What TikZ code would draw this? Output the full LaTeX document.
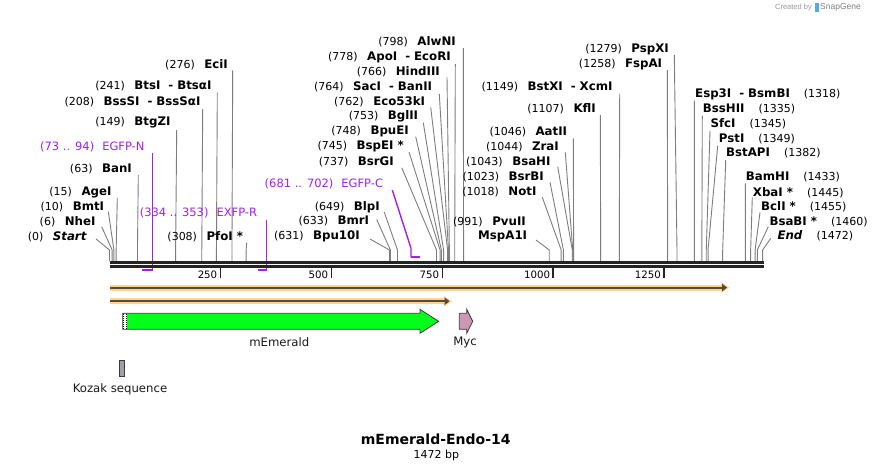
\documentclass[tikz,border=0pt]{standalone}
\usepackage{fontspec}
\setmainfont{DejaVu Sans}
\newfontfamily\credfont{Liberation Sans}
\usetikzlibrary{arrows.meta}
\definecolor{prm}{RGB}{160,32,240}
\definecolor{orfh}{RGB}{255,212,140}
\definecolor{orfd}{RGB}{88,74,56}
\definecolor{grn}{RGB}{4,255,26}
\definecolor{mycc}{RGB}{204,153,180}
\definecolor{bbc}{RGB}{36,36,36}
\definecolor{ldr}{RGB}{125,125,125}
\definecolor{kgray}{RGB}{160,160,170}
\definecolor{fdark}{RGB}{60,60,60}
\definecolor{snapblue}{RGB}{90,170,230}
\newcommand\fN{\fontsize{11}{13}\selectfont}
\newcommand\fB{\fontsize{11.8}{14}\selectfont\bfseries}
\newcommand\dsh{\hspace{8pt}-\hspace{4pt}}
\newcommand\nmL[2]{{\fN #1}\hspace{9.5pt}{\fB #2}}
\newcommand\nmR[2]{{\fB #1}\hspace{14pt}{\fN #2}}
\newcommand\enz[7]{%
  \node[lab,anchor=#2] (#1) at (#3,#4) {#5};
  \coordinate (#1-s) at #6;
  \coordinate (#1-k) at ({109.5+0.4437*#7},250);
  \coordinate (#1-b) at ({109.5+0.4437*#7},261);
  \draw[leader] (#1-s) -- (#1-k) -- (#1-b);}
\begin{document}
\begin{tikzpicture}[x=1pt,y=-1pt,
  lab/.style={inner sep=0pt,text=black},
  leader/.style={draw=ldr,line width=0.9pt},
  primer/.style={draw=prm,line width=1.4pt},
  plab/.style={inner sep=0pt,text=prm,font=\fontsize{11.5}{13}\selectfont},
  flab/.style={inner sep=0pt,text=black!90,font=\fontsize{11.7}{14}\selectfont},
  tickl/.style={inner sep=0pt,text=black,font=\fontsize{10.2}{12}\selectfont},
  feat/.style={draw=fdark,line width=0.8pt}]
\useasboundingbox (0,0) rectangle (874,471);

% ---- credit
\node[inner sep=0pt,anchor=east,text=black!40,font=\credfont\fontsize{7.5}{9}\selectfont] (cred1) at (812,7.5) {Created by};
\fill[snapblue] (815,3) rectangle (818.5,12);
\node[inner sep=0pt,anchor=west,text=black!50,font=\credfont\fontsize{8.5}{10}\selectfont] (cred2) at (820,7.5) {SnapGene};

% ---- enzymes, left-hand labels
\enz{start}{east}{87}{236.7}{\nmL{(0)}{\textit{Start}}}{(96,239)}{0}
\enz{nhe}{east}{95.7}{221.7}{\nmL{(6)}{NheI}}{(101.7,226.7)}{6}
\enz{bmt}{east}{104.3}{207}{\nmL{(10)}{BmtI}}{(108.3,211.7)}{10}
\enz{age}{east}{111.7}{192}{\nmL{(15)}{AgeI}}{(117.3,198)}{15}
\enz{ban}{east}{132}{169}{\nmL{(63)}{BanI}}{(138.3,175)}{63}
\enz{btgz}{east}{170.7}{122.3}{\nmL{(149)}{BtgZI}}{(176.7,130)}{149}
\enz{bsss}{east}{200.7}{101.7}{\nmL{(208)}{BssSI\dsh BssSαI}}{(202.7,109)}{208}
\enz{bts}{east}{211.7}{85.7}{\nmL{(241)}{BtsI\dsh BtsαI}}{(217.3,92.7)}{241}
\enz{eci}{east}{228}{64.3}{\nmL{(276)}{EciI}}{(232.7,70)}{276}
\enz{pfo}{east}{243.3}{236.7}{\nmL{(308)}{PfoI *}}{(246.7,242.7)}{308}
\enz{bputen}{east}{360}{236.7}{\nmL{(631)}{Bpu10I}}{(370,239)}{631}
\enz{bmr}{east}{369.3}{221}{\nmL{(633)}{BmrI}}{(376.7,219.5)}{633}
\enz{blp}{east}{380}{207.3}{\nmL{(649)}{BlpI}}{(384.3,212.3)}{649}
\enz{bsrg}{east}{394}{162.3}{\nmL{(737)}{BsrGI}}{(401.7,167.7)}{737}
\enz{bspe}{east}{404}{146.7}{\nmL{(745)}{BspEI *}}{(409,152)}{745}
\enz{bpue}{east}{409}{131.7}{\nmL{(748)}{BpuEI}}{(415.7,136.7)}{748}
\enz{bgl}{east}{418.3}{116.7}{\nmL{(753)}{BglII}}{(423.3,122.7)}{753}
\enz{ecof}{east}{425.3}{101.7}{\nmL{(762)}{Eco53kI}}{(430.7,107.3)}{762}
\enz{sac}{east}{432.3}{87.3}{\nmL{(764)}{SacI\dsh BanII}}{(439.3,94)}{764}
\enz{hind}{east}{440}{71.7}{\nmL{(766)}{HindIII}}{(447,77.3)}{766}
\enz{apo}{east}{451}{57.3}{\nmL{(778)}{ApoI\dsh EcoRI}}{(455.3,64)}{778}
\enz{alwn}{east}{456}{41.7}{\nmL{(798)}{AlwNI}}{(463.3,48)}{798}
\node[lab,anchor=east] (pvu) at (526,221.7) {\nmL{(991)}{PvuII}};
\enz{mspa}{east}{527.3}{236.7}{{\fB MspA1I}}{(536,240)}{991}
\enz{noti}{east}{536.7}{191.7}{\nmL{(1018)}{NotI}}{(542.3,197.3)}{1018}
\enz{bsrb}{east}{544}{176.7}{\nmL{(1023)}{BsrBI}}{(550,182.3)}{1023}
\enz{bsah}{east}{550.7}{161.7}{\nmL{(1043)}{BsaHI}}{(557.7,166.7)}{1043}
\enz{zra}{east}{559}{146.7}{\nmL{(1044)}{ZraI}}{(565.3,152.3)}{1044}
\enz{aat}{east}{567.3}{131.7}{\nmL{(1046)}{AatII}}{(573.3,138.3)}{1046}
\enz{kfl}{east}{596}{109}{\nmL{(1107)}{KflI}}{(600.3,115)}{1107}
\enz{bstx}{east}{612.7}{86.7}{\nmL{(1149)}{BstXI\dsh XcmI}}{(619.7,94)}{1149}
\enz{fspa}{east}{662.3}{64}{\nmL{(1258)}{FspAI}}{(667.3,70)}{1258}
\enz{pspx}{east}{669}{49}{\nmL{(1279)}{PspXI}}{(674.3,55)}{1279}

% ---- enzymes, right-hand labels
\enz{esp}{west}{695}{94.3}{\nmR{Esp3I\dsh BsmBI}{(1318)}}{(694.3,100.7)}{1318}
\enz{bssh}{west}{702.7}{109.3}{\nmR{BssHII}{(1335)}}{(702.3,115.7)}{1335}
\enz{sfc}{west}{710.3}{124}{\nmR{SfcI}{(1345)}}{(710,130.7)}{1345}
\enz{pst}{west}{718.7}{139}{\nmR{PstI}{(1349)}}{(717.7,145.7)}{1349}
\enz{bstap}{west}{726}{153.3}{\nmR{BstAPI}{(1382)}}{(725.7,160)}{1382}
\enz{bam}{west}{745.7}{177.3}{\nmR{BamHI}{(1433)}}{(745.3,183.3)}{1433}
\enz{xba}{west}{752.7}{192.3}{\nmR{XbaI *}{(1445)}}{(752.3,197.3)}{1445}
\enz{bcl}{west}{761}{206.7}{\nmR{BclI *}{(1455)}}{(760,212.3)}{1455}
\enz{bsab}{west}{769.3}{221.7}{\nmR{BsaBI *}{(1460)}}{(768.3,226.7)}{1460}
\enz{endm}{west}{777.3}{235.7}{\nmR{\textit{End}}{(1472)}}{(770.7,238.3)}{1472}

% ---- primers
\node[plab,anchor=east] (egfpn) at (144.7,146.7) {(73 .. 94)\hspace{8pt}EGFP-N};
\coordinate (egfpn-a) at (152.7,153);
\coordinate (egfpn-b) at (152.7,270);
\coordinate (egfpn-c) at (141.5,270);
\draw[primer] (egfpn-a) -- (egfpn-b);
\draw[prm,line width=2pt] (egfpn-b) -- (egfpn-c);

\node[plab,anchor=east] (exfpr) at (257.3,213.3) {(334 .. 353)\hspace{8pt}EXFP-R};
\coordinate (exfpr-a) at (266.7,220);
\coordinate (exfpr-b) at (266.7,270);
\coordinate (exfpr-c) at (257.8,270);
\draw[primer] (exfpr-a) -- (exfpr-b);
\draw[prm,line width=2pt] (exfpr-b) -- (exfpr-c);

\node[plab,anchor=east] (egfpc) at (383.3,184) {(681 .. 702)\hspace{8pt}EGFP-C};
\coordinate (egfpc-a) at (392.3,190);
\coordinate (egfpc-k) at (411,248.3);
\coordinate (egfpc-b) at (411,257.3);
\coordinate (egfpc-c) at (420,257.3);
\draw[primer] (egfpc-a) -- (egfpc-k) -- (egfpc-b);
\draw[prm,line width=2pt] (egfpc-b) -- (egfpc-c);

% ---- backbone
\coordinate (bb0) at (109.5,262.2);
\coordinate (bb1) at (763.8,262.2);
\coordinate (bc0) at (109.5,266.3);
\coordinate (bc1) at (763.8,266.3);
\draw[bbc,line width=3pt] (bb0) -- (bb1);
\draw[bbc,line width=3pt] (bc0) -- (bc1);

% ---- scale ticks
\foreach \t/\n in {250/t250,500/t500,750/t750,1000/t1000,1250/t1250}{
  \coordinate (\n-a) at ({109.5+0.4437*\t},267.5);
  \coordinate (\n-b) at ({109.5+0.4437*\t},277.5);
  \draw[bbc,line width=1.5pt] (\n-a) -- (\n-b);
  \node[tickl,anchor=east] (\n) at ({109.5+0.4437*\t-3},274.3) {\t};
}

% ---- ORFs
\fill[orfh] (109.5,284.8) rectangle (722,290.5);
\fill[orfh] (721.3,282.3) -- (729.6,287.6) -- (721.3,293) -- cycle;
\coordinate (orfa0) at (110,287.6);
\coordinate (orfa1) at (727,287.6);
\draw[orfd,line width=2.2pt,-{Triangle[length=5pt,width=7.5pt]}] (orfa0) -- (orfa1);

\fill[orfh] (109.5,298.4) rectangle (444.5,304.1);
\fill[orfh] (443.8,295.9) -- (452.1,301.2) -- (443.8,306.6) -- cycle;
\coordinate (orfb0) at (110,301.2);
\coordinate (orfb1) at (449.5,301.2);
\draw[orfd,line width=2.2pt,-{Triangle[length=5pt,width=7.5pt]}] (orfb0) -- (orfb1);

% ---- mEmerald feature
\draw[feat,fill=grn] (122.7,313.3) -- (420,313.3) -- (420,309.3) -- (438.6,321.3) -- (420,333.3) -- (420,329.3) -- (122.7,329.3) -- cycle;
\fill[white] (123.3,313.8) rectangle (127.2,328.8);
\draw[black,line width=0.9pt,dash pattern=on 1pt off 1pt] (123.7,313.8) -- (123.7,328.8);
\draw[black,line width=0.9pt,dash pattern=on 1pt off 1pt] (126.6,313.8) -- (126.6,328.8);
\node[flab] (lmem) at (279.3,342) {mEmerald};

% ---- Myc feature
\draw[feat,fill=mycc] (459.3,313.3) -- (466.7,313.3) -- (466.7,309.3) -- (472.7,321.3) -- (466.7,333.3) -- (466.7,329.3) -- (459.3,329.3) -- cycle;
\node[flab] (lmyc) at (465,342) {Myc};

% ---- Kozak
\draw[feat,fill=kgray] (119.3,360) rectangle (124.3,376.7);
\node[flab] (lkoz) at (120,389.3) {Kozak sequence};

% ---- title
\node[inner sep=0pt,font=\fontsize{14}{16}\selectfont\bfseries] (title) at (435.7,439) {mEmerald-Endo-14};
\node[inner sep=0pt,font=\fontsize{11}{13}\selectfont] (size) at (436.3,455) {1472 bp};
\end{tikzpicture}
\end{document}
